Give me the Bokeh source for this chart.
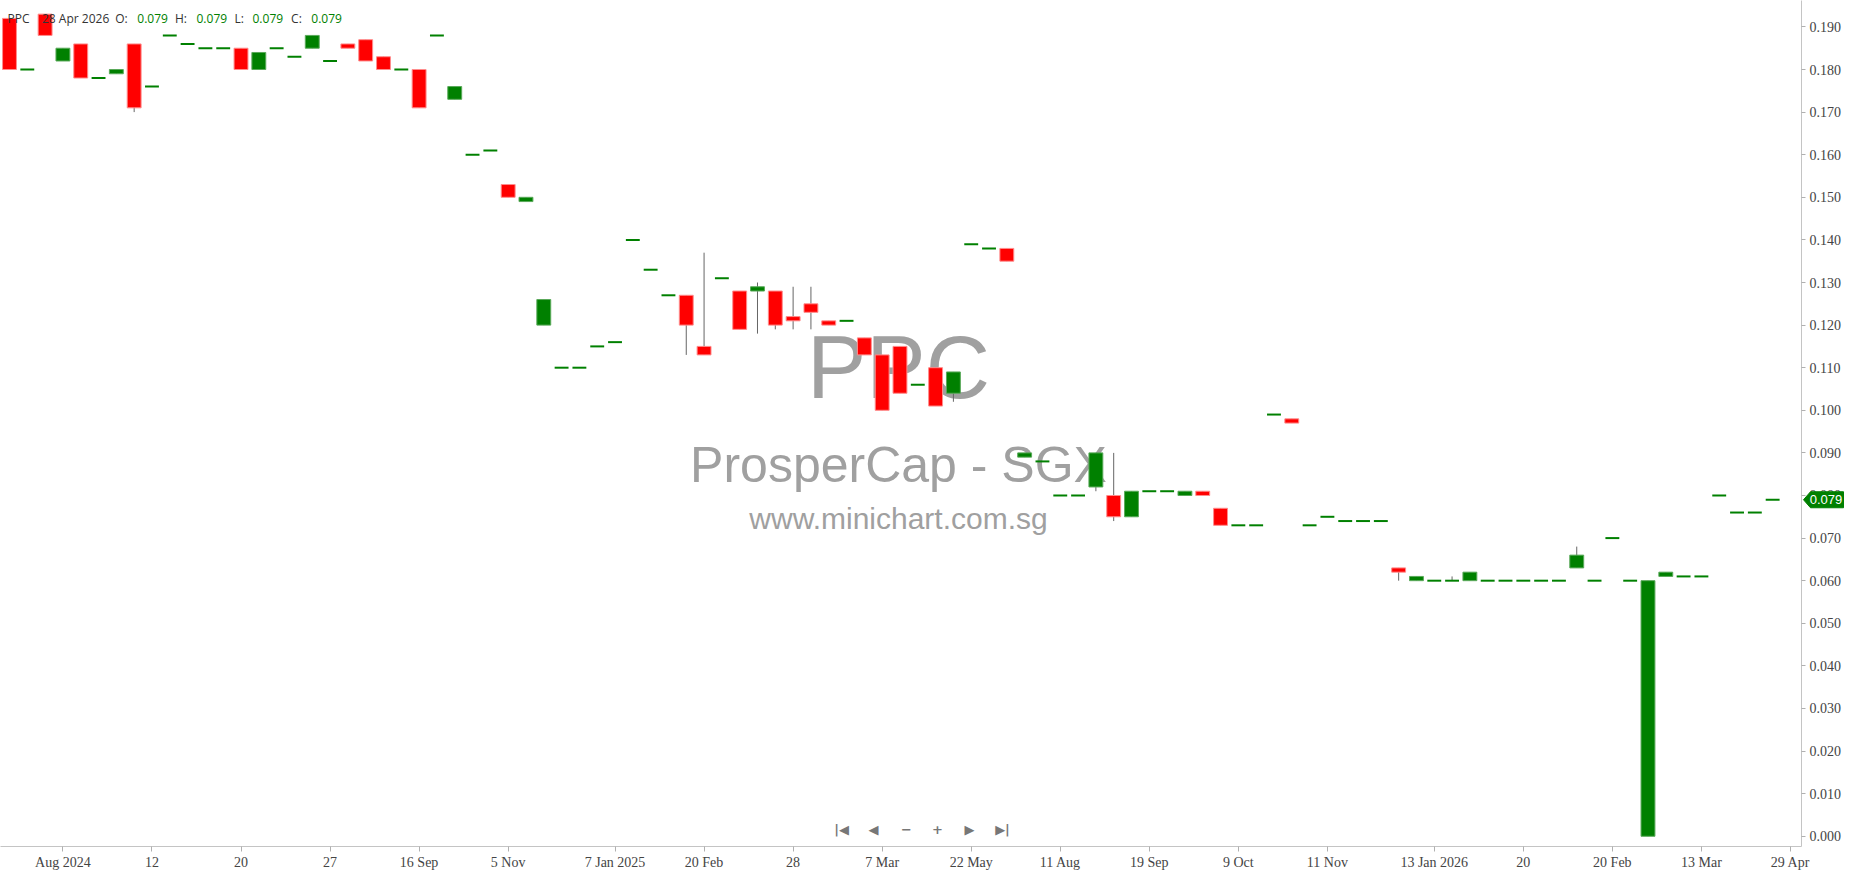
from bokeh.plotting import figure
from bokeh.layouts import row
from bokeh.models import (Range1d, FixedTicker, SingleIntervalTicker,
                          NumeralTickFormatter, Label, ColumnDataSource)
from bokeh.core.properties import value
from bokeh.embed import file_html
from bokeh.resources import INLINE

symbol = "PPC"
company = "ProsperCap - SGX"
website = "www.minichart.com.sg"
last_date = "28 Apr 2026"

opens = [0.192, 0.180, 0.193, 0.182, 0.186, 0.178, 0.179, 0.186, 0.176, 0.188,
         0.186, 0.185, 0.185, 0.185, 0.180, 0.185, 0.183, 0.185, 0.182, 0.186,
         0.187, 0.183, 0.180, 0.180, 0.188, 0.173, 0.160, 0.161, 0.153, 0.149,
         0.120, 0.110, 0.110, 0.115, 0.116, 0.140, 0.133, 0.127, 0.127, 0.115,
         0.131, 0.128, 0.128, 0.128, 0.122, 0.125, 0.121, 0.121, 0.117, 0.113,
         0.115, 0.106, 0.110, 0.104, 0.139, 0.138, 0.138, 0.089, 0.088, 0.080,
         0.080, 0.082, 0.080, 0.075, 0.081, 0.081, 0.080, 0.081, 0.077, 0.073,
         0.073, 0.099, 0.098, 0.073, 0.075, 0.074, 0.074, 0.074, 0.063, 0.060,
         0.060, 0.060, 0.060, 0.060, 0.060, 0.060, 0.060, 0.060, 0.063, 0.060,
         0.070, 0.060, 0.000, 0.061, 0.061, 0.061, 0.080, 0.076, 0.076, 0.079]
highs = [0.192, 0.180, 0.193, 0.185, 0.186, 0.178, 0.180, 0.186, 0.176, 0.188,
         0.186, 0.185, 0.185, 0.185, 0.184, 0.185, 0.183, 0.188, 0.182, 0.186,
         0.187, 0.183, 0.180, 0.180, 0.188, 0.176, 0.160, 0.161, 0.153, 0.150,
         0.126, 0.110, 0.110, 0.115, 0.116, 0.140, 0.133, 0.127, 0.127, 0.137,
         0.131, 0.128, 0.130, 0.128, 0.129, 0.129, 0.121, 0.121, 0.117, 0.113,
         0.115, 0.106, 0.110, 0.109, 0.139, 0.138, 0.138, 0.090, 0.088, 0.080,
         0.080, 0.090, 0.090, 0.081, 0.081, 0.081, 0.081, 0.081, 0.077, 0.073,
         0.073, 0.099, 0.098, 0.073, 0.075, 0.074, 0.074, 0.074, 0.063, 0.061,
         0.060, 0.061, 0.062, 0.060, 0.060, 0.060, 0.060, 0.060, 0.068, 0.060,
         0.070, 0.060, 0.060, 0.062, 0.061, 0.061, 0.080, 0.076, 0.076, 0.079]
lows = [0.180, 0.180, 0.188, 0.182, 0.178, 0.178, 0.179, 0.170, 0.176, 0.188,
        0.186, 0.185, 0.185, 0.180, 0.180, 0.185, 0.183, 0.185, 0.182, 0.185,
        0.182, 0.180, 0.180, 0.171, 0.188, 0.173, 0.160, 0.161, 0.150, 0.149,
        0.120, 0.110, 0.110, 0.115, 0.116, 0.140, 0.133, 0.127, 0.113, 0.113,
        0.131, 0.119, 0.118, 0.119, 0.119, 0.119, 0.120, 0.121, 0.113, 0.100,
        0.104, 0.106, 0.101, 0.102, 0.139, 0.138, 0.135, 0.089, 0.088, 0.080,
        0.080, 0.081, 0.074, 0.075, 0.081, 0.081, 0.080, 0.080, 0.073, 0.073,
        0.073, 0.099, 0.097, 0.073, 0.075, 0.074, 0.074, 0.074, 0.060, 0.060,
        0.060, 0.060, 0.060, 0.060, 0.060, 0.060, 0.060, 0.060, 0.063, 0.060,
        0.070, 0.060, 0.000, 0.061, 0.061, 0.061, 0.080, 0.076, 0.076, 0.079]
closes = [0.180, 0.180, 0.188, 0.185, 0.178, 0.178, 0.180, 0.171, 0.176, 0.188,
          0.186, 0.185, 0.185, 0.180, 0.184, 0.185, 0.183, 0.188, 0.182, 0.185,
          0.182, 0.180, 0.180, 0.171, 0.188, 0.176, 0.160, 0.161, 0.150, 0.150,
          0.126, 0.110, 0.110, 0.115, 0.116, 0.140, 0.133, 0.127, 0.120, 0.113,
          0.131, 0.119, 0.129, 0.120, 0.121, 0.123, 0.120, 0.121, 0.113, 0.100,
          0.104, 0.106, 0.101, 0.109, 0.139, 0.138, 0.135, 0.090, 0.088, 0.080,
          0.080, 0.090, 0.075, 0.081, 0.081, 0.081, 0.081, 0.080, 0.073, 0.073,
          0.073, 0.099, 0.097, 0.073, 0.075, 0.074, 0.074, 0.074, 0.062, 0.061,
          0.060, 0.060, 0.062, 0.060, 0.060, 0.060, 0.060, 0.060, 0.066, 0.060,
          0.070, 0.060, 0.060, 0.062, 0.061, 0.061, 0.080, 0.076, 0.076, 0.079]

tick_index = [3, 8, 13, 18, 23, 28, 34, 39, 44, 49,
              54, 59, 64, 69, 74, 80, 85, 90, 95, 100]
tick_labels = ["Aug 2024", "12", "20", "27", "16 Sep", "5 Nov", "7 Jan 2025",
               "20 Feb", "28", "7 Mar", "22 May", "11 Aug", "19 Sep", "9 Oct",
               "11 Nov", "13 Jan 2026", "20", "20 Feb", "13 Mar", "29 Apr"]

GREEN = "#008000"
RED = "#ff0000"
FRAME_W, FRAME_H = 1801, 846
AXIS_W, AXIS_H = 49, 28
Y0, Y1 = -0.0024, 0.1962

idx = list(range(len(closes)))
up = [c >= o for o, c in zip(opens, closes)]
colors = [GREEN if u else RED for u in up]
edge = ["#5aa95a" if u else "#ff8c8c" for u in up]

solid = [i for i in idx if opens[i] != closes[i]]
flat = [i for i in idx if opens[i] == closes[i]]

src_all = ColumnDataSource(dict(x=idx, high=highs, low=lows))
src_body = ColumnDataSource(dict(
    x=solid,
    top=[max(opens[i], closes[i]) for i in solid],
    bottom=[min(opens[i], closes[i]) for i in solid],
    color=[colors[i] for i in solid],
    edge=[edge[i] for i in solid],
))
src_flat = ColumnDataSource(dict(x=flat, y=[closes[i] for i in flat],
                                 color=[colors[i] for i in flat]))

p = figure(frame_width=FRAME_W, frame_height=FRAME_H,
           x_range=Range1d(-0.505, 100.62), y_range=Range1d(Y0, Y1),
           y_axis_location="right", output_backend="svg", toolbar_location=None,
           min_border_left=0, min_border_top=0, min_border_right=AXIS_W,
           min_border_bottom=AXIS_H, background_fill_color="white",
           border_fill_color="white")
p.outline_line_color = None
p.grid.visible = False

p.segment(x0="x", x1="x", y0="low", y1="high", source=src_all,
          line_color="#666666", line_width=1)
p.vbar(x="x", width=0.78, top="top", bottom="bottom", source=src_body,
       fill_color="color", line_color="edge", line_width=1)
p.rect(x="x", y="y", width=0.78, height=2, height_units="screen",
       source=src_flat, fill_color="color", line_color=None)

# axes
ax = p.yaxis[0]
ax.ticker = SingleIntervalTicker(interval=0.01, num_minor_ticks=0)
ax.formatter = NumeralTickFormatter(format="0.000")
bx = p.xaxis[0]
bx.ticker = FixedTicker(ticks=tick_index)
bx.major_label_overrides = {t: l for t, l in zip(tick_index, tick_labels)}
for a in (ax, bx):
    a.axis_line_color = "#c4c4c4"
    a.major_tick_line_color = "#b0b0b0"
    a.minor_tick_line_color = None
    a.major_tick_in = 0
    a.major_label_text_font = "Liberation Serif"
    a.major_label_text_font_size = "14px"
    a.major_label_text_color = "#444444"
ax.major_tick_out = 4
ax.major_label_standoff = 4
bx.major_tick_out = 5
bx.major_label_standoff = 3

# watermark (underlay)
cx = 898
for txt, y, size in ((symbol, 480, "89px"), (company, 382, "50px"),
                     (website, 328, "30px")):
    p.add_layout(Label(x=cx, y=y, x_units="screen", y_units="screen", text=txt,
                       text_align="center", text_baseline="alphabetic",
                       text_font="Liberation Sans", text_font_size=size,
                       text_color="#a0a0a0", level="underlay"))

# header
last = closes[-1]
fmt = "{:.3f}"
header = [(7, symbol, "#333333"), (41.5, last_date, "#333333"),
          (114.7, "O:", "#333333"), (136.8, fmt.format(opens[-1]), GREEN),
          (174.4, "H:", "#333333"), (196, fmt.format(highs[-1]), GREEN),
          (234, "L:", "#333333"), (252, fmt.format(lows[-1]), GREEN),
          (290.6, "C:", "#333333"), (310.8, fmt.format(last), GREEN)]
for x, txt, col in header:
    p.add_layout(Label(x=x, y=FRAME_H - 17.5, x_units="screen", y_units="screen",
                       text=txt, text_align="left", text_baseline="middle",
                       text_font="Open Sans", text_font_size="12px",
                       text_color=col))

# navigation icons
nav = [(841, "|◀"), (873, "◀"), (906, "−"), (937, "+"), (969, "▶"), (1002, "▶|")]
for x, txt in nav:
    p.add_layout(Label(x=x, y=17, x_units="screen", y_units="screen", text=txt,
                       text_align="center", text_baseline="middle",
                       text_font="DejaVu Sans", text_font_style="bold",
                       text_font_size="13px", text_color="#777777"))

# last-price marker: transparent overlay figure over the price-axis strip
m = figure(frame_width=AXIS_W, frame_height=FRAME_H,
           x_range=Range1d(0, AXIS_W), y_range=p.y_range,
           x_axis_location=None, y_axis_location=None,
           output_backend="svg", toolbar_location=None,
           min_border_left=0, min_border_top=0, min_border_right=0,
           min_border_bottom=AXIS_H, background_fill_color=None,
           border_fill_color=None, outline_line_color=None)
m.grid.visible = False
h = 8 * (Y1 - Y0) / FRAME_H
m.patch(x=[2, 9, 42, 42, 9], y=[last, last + h, last + h, last - h, last - h],
        fill_color=GREEN, line_color=GREEN)
m.text(x=[24.5], y=[last], text=[fmt.format(last)], text_align="center",
       text_baseline="middle", text_color="white",
       text_font=value("Liberation Sans"), text_font_size="13px")
m.margin = (0, 0, 0, -AXIS_W)

layout = row(p, m)
open("out.html", "w").write(file_html(layout, INLINE))
